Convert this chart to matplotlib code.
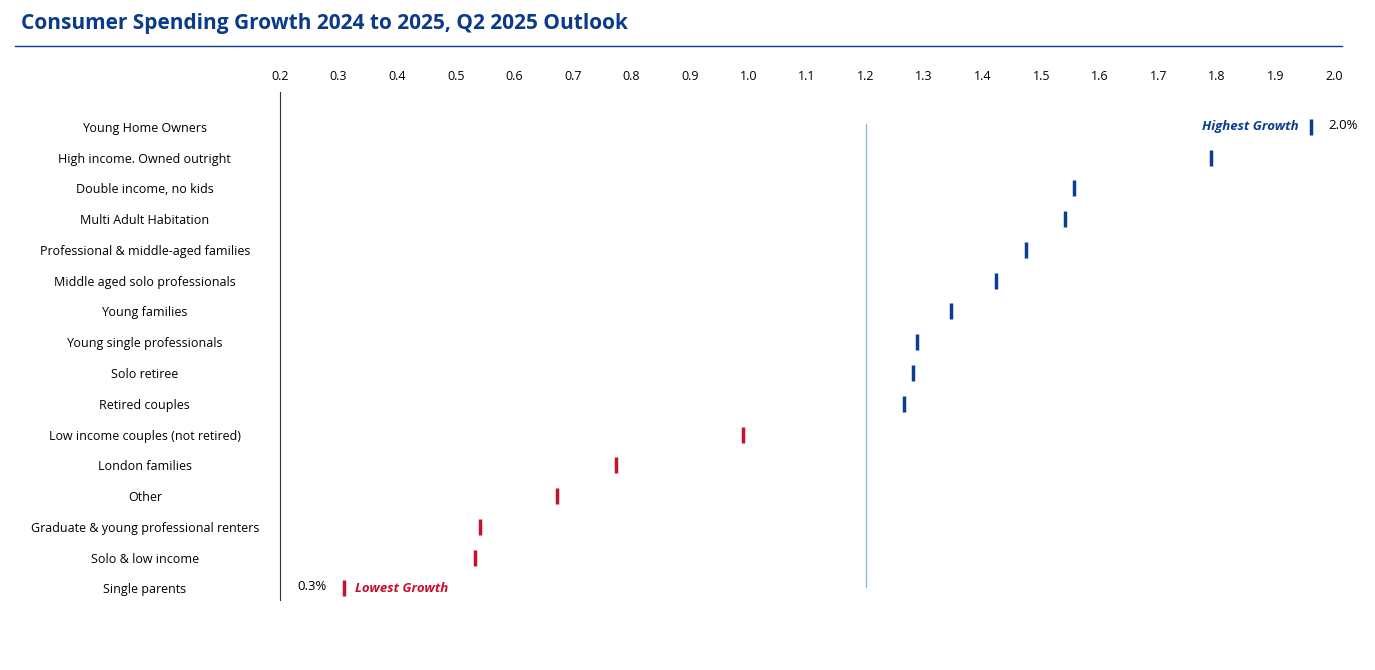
import matplotlib
matplotlib.use("Agg")
import matplotlib.pyplot as plt

segments = ["Young Home Owners", "High income. Owned outright", "Double income, no kids",
            "Multi Adult Habitation", "Professional & middle-aged families",
            "Middle aged solo professionals", "Young families", "Young single professionals",
            "Solo retiree", "Retired couples", "Low income couples (not retired)",
            "London families", "Other", "Graduate & young professional renters",
            "Solo & low income", "Single parents"]
growth = [1.96, 1.79, 1.556, 1.54, 1.474, 1.423, 1.346, 1.288, 1.281, 1.266,
          0.991, 0.774, 0.673, 0.542, 0.533, 0.309]
threshold = 1.2
xticks = [round(0.2 + 0.1 * i, 1) for i in range(19)]

BLUE = "#0b3d91"
RED = "#c8102e"
plt.rcParams["font.family"] = "Open Sans"

fig = plt.figure(figsize=(13.75, 6.7), dpi=100)
fig.text(0.015, 0.965, "Consumer Spending Growth 2024 to 2025, Q2 2025 Outlook",
         fontsize=15, weight="bold", color="#0a3a8c", va="center")
fig.add_artist(plt.Line2D([0.011, 0.976], [0.931, 0.931], color="#0a3a8c", lw=1))

ax = fig.add_axes([0.2036, 0.104, 0.7666, 0.759])
rows = list(range(len(segments)))
colors = [BLUE if g >= threshold else RED for g in growth]
for r, g, c in zip(rows, growth, colors):
    ax.plot(g, r, marker="|", ms=12, mew=2.5, color=c, ls="none")
ax.plot([threshold, threshold], [-0.1, 14.95], color="#8fb8de", lw=1)

ax.set_xlim(0.2, 2.0)
ax.set_ylim(15.39, -1.14)
ax.set_xticks(xticks)
ax.set_xticklabels([f"{t:.1f}" for t in xticks], fontsize=9)
ax.xaxis.tick_top()
ax.tick_params(axis="x", length=0, pad=6)
ax.set_yticks(rows)
ax.set_yticklabels(segments, fontsize=9)
ax.tick_params(axis="y", length=0, pad=10)
for lab in ax.get_yticklabels():
    lab.set_horizontalalignment("center")
    lab.set_x(-0.115)
for s in ["top", "right", "bottom"]:
    ax.spines[s].set_visible(False)
ax.spines["left"].set_color("#333333")

ax.text(growth[0] - 0.02, 0, "Highest Growth", color=BLUE, fontsize=9.5,
        weight="bold", style="italic", ha="right", va="center")
ax.text(growth[0] + 0.03, -0.05, "2.0%", fontsize=9.5, ha="left", va="center")
ax.text(growth[-1] + 0.02, 15, "Lowest Growth", color=RED, fontsize=9.5,
        weight="bold", style="italic", ha="left", va="center")
ax.text(growth[-1] - 0.03, 14.95, "0.3%", fontsize=9.5, ha="right", va="center")

fig.savefig("out.png", dpi=100)
